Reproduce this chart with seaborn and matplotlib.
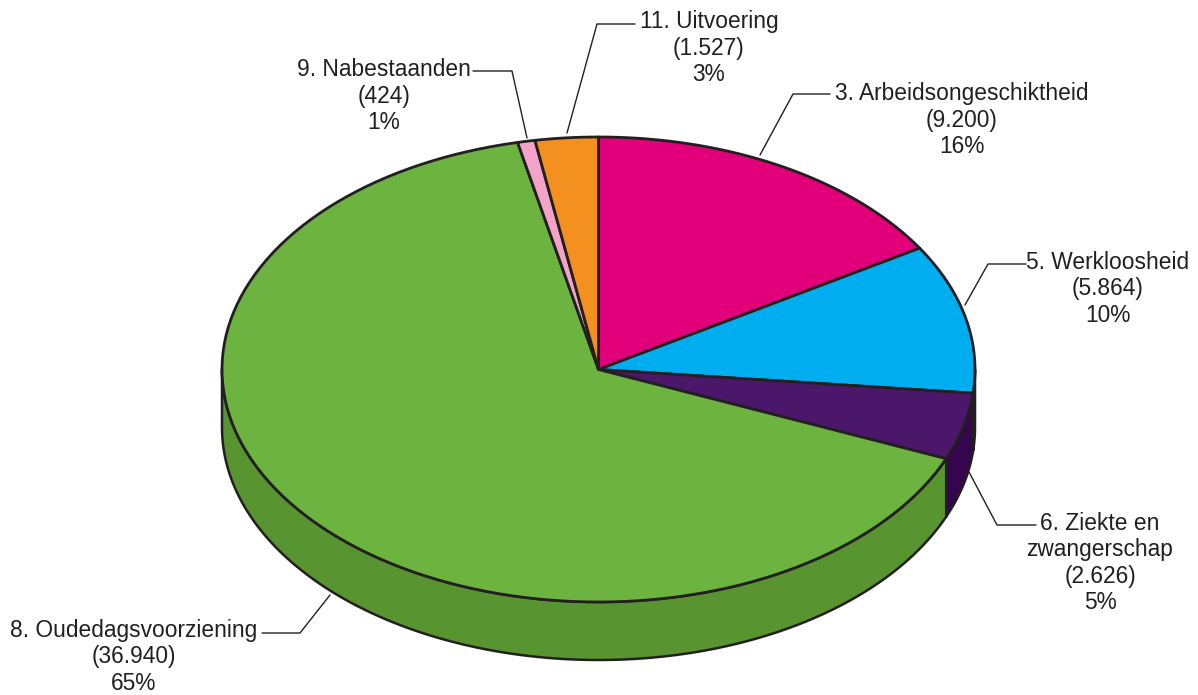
import numpy as np
import matplotlib.pyplot as plt
import seaborn as sns
from matplotlib.patches import Polygon

# Uitgaven per regeling (mln euro)
categories = ["3. Arbeidsongeschiktheid", "5. Werkloosheid", "6. Ziekte en\nzwangerschap",
              "8. Oudedagsvoorziening", "9. Nabestaanden", "11. Uitvoering"]
values = [9200, 5864, 2626, 36940, 424, 1527]
top_colors = ["#e2007a", "#00aeef", "#4b176b", "#6cb33f", "#f4a3c8", "#f39020"]
side_colors = ["#b00060", "#0089bd", "#35064e", "#58942f", "#c7809f", "#c46f10"]

# label layout (pixel coords) and leader line paths
label_pos = [(962, 120), (1108, 289), (1100, 563), (134, 657), (384, 96), (709, 48)]
leaders = [
    [(830, 94), (793, 94), (760, 155)],
    [(1026, 264), (988, 264), (965, 305)],
    [(1036, 525), (997, 525), (969, 472)],
    [(262, 633), (300, 633), (330, 595)],
    [(473, 71), (512, 71), (527, 138)],
    [(635, 24), (597, 24), (567, 133)],
]

sns.set_style("white")
plt.rcParams['font.family'] = ['Liberation Sans', 'DejaVu Sans']

ink = "#231f20"
cx, cy, rx, ry, depth = 598.5, 369.5, 376.5, 232.5, 58


def arc(a_from, a_to, n=120, dy=0):
    t = np.radians(np.linspace(a_from, a_to, n))
    return np.column_stack([cx + rx * np.cos(t), cy - ry * np.sin(t) + dy])


fig = plt.figure(figsize=(11.98, 6.95), dpi=100)
ax = fig.add_axes([0, 0, 1, 1])
ax.set_xlim(0, 1198)
ax.set_ylim(695, 0)
ax.axis("off")

total = sum(values)
spans = [v / total * 360 for v in values]
starts = 90 - np.concatenate([[0], np.cumsum(spans)[:-1]])

# side walls (only the front half is visible)
for a0, span, col in zip(starts, spans, side_colors):
    a1 = a0 - span
    lo, hi = max(a1, -180), min(a0, 0)
    if lo < hi:
        top = arc(hi, lo)
        bottom = arc(lo, hi, dy=depth)
        ax.add_patch(Polygon(np.vstack([top, bottom]), closed=True, facecolor=col,
                             edgecolor=ink, lw=1.8, joinstyle="round"))

# top faces
for a0, span, col in zip(starts, spans, top_colors):
    pts = np.vstack([[cx, cy], arc(a0, a0 - span)])
    ax.add_patch(Polygon(pts, closed=True, facecolor=col, edgecolor=ink,
                         lw=2.0, joinstyle="round"))

# labels
for name, v, (x, y), path in zip(categories, values, label_pos, leaders):
    pct = round(v / total * 100)
    txt = f"{name}\n({v:,})\n{pct}%".replace(",", ".")
    ax.text(x, y, txt, ha="center", va="center", multialignment="center",
            fontsize=16.4, color=ink, linespacing=1.2)
    xs, ys = zip(*path)
    ax.plot(xs, ys, color=ink, lw=1.0)

fig.savefig("out.png", dpi=100)
